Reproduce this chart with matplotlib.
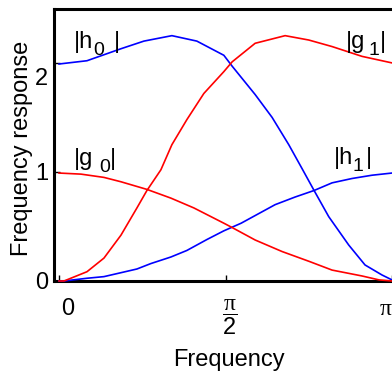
import numpy as np
import matplotlib
matplotlib.use('Agg')
import matplotlib.pyplot as plt
import matplotlib.transforms as mtransforms

plt.rcParams['font.family'] = 'Liberation Sans'
plt.rcParams['mathtext.fontset'] = 'custom'
plt.rcParams['mathtext.rm'] = 'Liberation Sans'
plt.rcParams['mathtext.it'] = 'Liberation Serif'
plt.rcParams['font.size'] = 17

# frequency, in units of pi
h0_f = [0, 0.084, 0.186, 0.255, 0.339, 0.414, 0.495, 0.52, 0.589, 0.64, 0.69,
        0.73, 0.766, 0.81, 0.87, 0.919, 0.97, 1.0]
h0_v = [1.99, 2.02, 2.13, 2.20, 2.25, 2.20, 2.07, 1.97, 1.71, 1.50, 1.25,
        1.03, 0.83, 0.59, 0.33, 0.147, 0.055, 0.01]

h1_f = [0, 0.015, 0.084, 0.135, 0.186, 0.234, 0.276, 0.336, 0.384, 0.444,
        0.495, 0.547, 0.589, 0.649, 0.709, 0.766, 0.820, 0.880, 0.94, 1.0]
h1_v = [0, 0.0, 0.025, 0.04, 0.076, 0.11, 0.16, 0.22, 0.28, 0.38,
        0.46, 0.53, 0.60, 0.70, 0.77, 0.83, 0.90, 0.94, 0.97, 0.99]

g0_f = [0, 0.066, 0.135, 0.186, 0.264, 0.336, 0.405, 0.495, 0.52, 0.589,
        0.670, 0.751, 0.820, 0.910, 0.961, 1.0]
g0_v = [0.99, 0.98, 0.95, 0.91, 0.84, 0.76, 0.67, 0.53, 0.49, 0.376,
        0.27, 0.18, 0.10, 0.046, 0.01, 0.0]

g1_f = [0, 0.015, 0.084, 0.135, 0.186, 0.234, 0.264, 0.306, 0.339, 0.384,
        0.435, 0.495, 0.52, 0.589, 0.679, 0.75, 0.82, 0.91, 1.0]
g1_v = [0, 0.0, 0.085, 0.21, 0.42, 0.67, 0.83, 1.02, 1.25, 1.48,
        1.72, 1.92, 2.01, 2.18, 2.25, 2.21, 2.15, 2.06, 2.0]

label_main = ['|h', '|h', '|g', '|g']
label_sub = ['0', '1', '0', '1']
label_pos = [(0.045, 2.138), (0.825, 1.073), (0.045, 1.064), (0.860, 2.138)]
sub_dx = [19.5, 19, 25, 23]
bar_dx = [40, 32, 36, 34]

fig = plt.figure(figsize=(3.92, 3.75), dpi=100)
ax = fig.add_axes([0.1365, 0.2507, 1.0 - 0.1365, 0.9747 - 0.2507])

ax.plot(np.array(h0_f) * np.pi, h0_v, color='blue', lw=1.2, zorder=3, clip_on=False)
ax.plot(np.array(h1_f) * np.pi, h1_v, color='blue', lw=1.2, zorder=3, clip_on=False)
ax.plot(np.array(g0_f) * np.pi, g0_v, color='red', lw=1.2, zorder=3, clip_on=False)
ax.plot(np.array(g1_f) * np.pi, g1_v, color='red', lw=1.2, zorder=3, clip_on=False)

for main, sub, (fx, fy), sdx, bdx in zip(label_main, label_sub, label_pos, sub_dx, bar_dx):
    xy = (fx * np.pi, fy)
    ax.annotate(main, xy, ha='left', va='baseline')
    ax.annotate(sub, xy, xytext=(sdx, -7), textcoords='offset pixels',
                ha='left', va='baseline', fontsize=14)
    ax.annotate('|', xy, xytext=(bdx, 0), textcoords='offset pixels',
                ha='left', va='baseline')

ax.set_xlim(-5.5 / 333 * np.pi, np.pi)
ax.set_ylim(0, 2.49)

ax.spines['right'].set_visible(False)
for s in ['left', 'bottom', 'top']:
    ax.spines[s].set_linewidth(2.2)

ax.set_xticks([0, np.pi / 2, np.pi])
ax.set_xticklabels(['0', r'$\dfrac{\pi}{\mathrm{2}}$', r'$\pi$'])
ax.set_yticks([0, 1, 2])
ax.set_yticklabels(['0', '1', '2'])
ax.tick_params(direction='in', length=4, width=1, top=False, right=False)
ax.tick_params(axis='x', pad=12)
ax.tick_params(axis='y', pad=4)

dpi = fig.dpi
xshift = [9, 4, -6]
for lab, dx in zip(ax.get_xticklabels(), xshift):
    lab.set_transform(lab.get_transform() + mtransforms.ScaledTranslation(dx / dpi, 0, fig.dpi_scale_trans))
ylab2 = ax.get_yticklabels()[2]
ylab2.set_transform(ylab2.get_transform() + mtransforms.ScaledTranslation(0, -14 / dpi, fig.dpi_scale_trans))

ax.set_xlabel('Frequency')
ax.xaxis.set_label_coords((229 - 53.5) / (392 - 53.5), -(360 - 281) / (281 - 9.5), transform=ax.transAxes)
ax.set_ylabel('Frequency response')
ax.yaxis.set_label_coords(-(53.5 - 22) / (392 - 53.5), (281 - 148) / (281 - 9.5), transform=ax.transAxes)
ax.xaxis.label.set_va('center')
ax.yaxis.label.set_va('center')

fig.savefig('out.png', dpi=100)
